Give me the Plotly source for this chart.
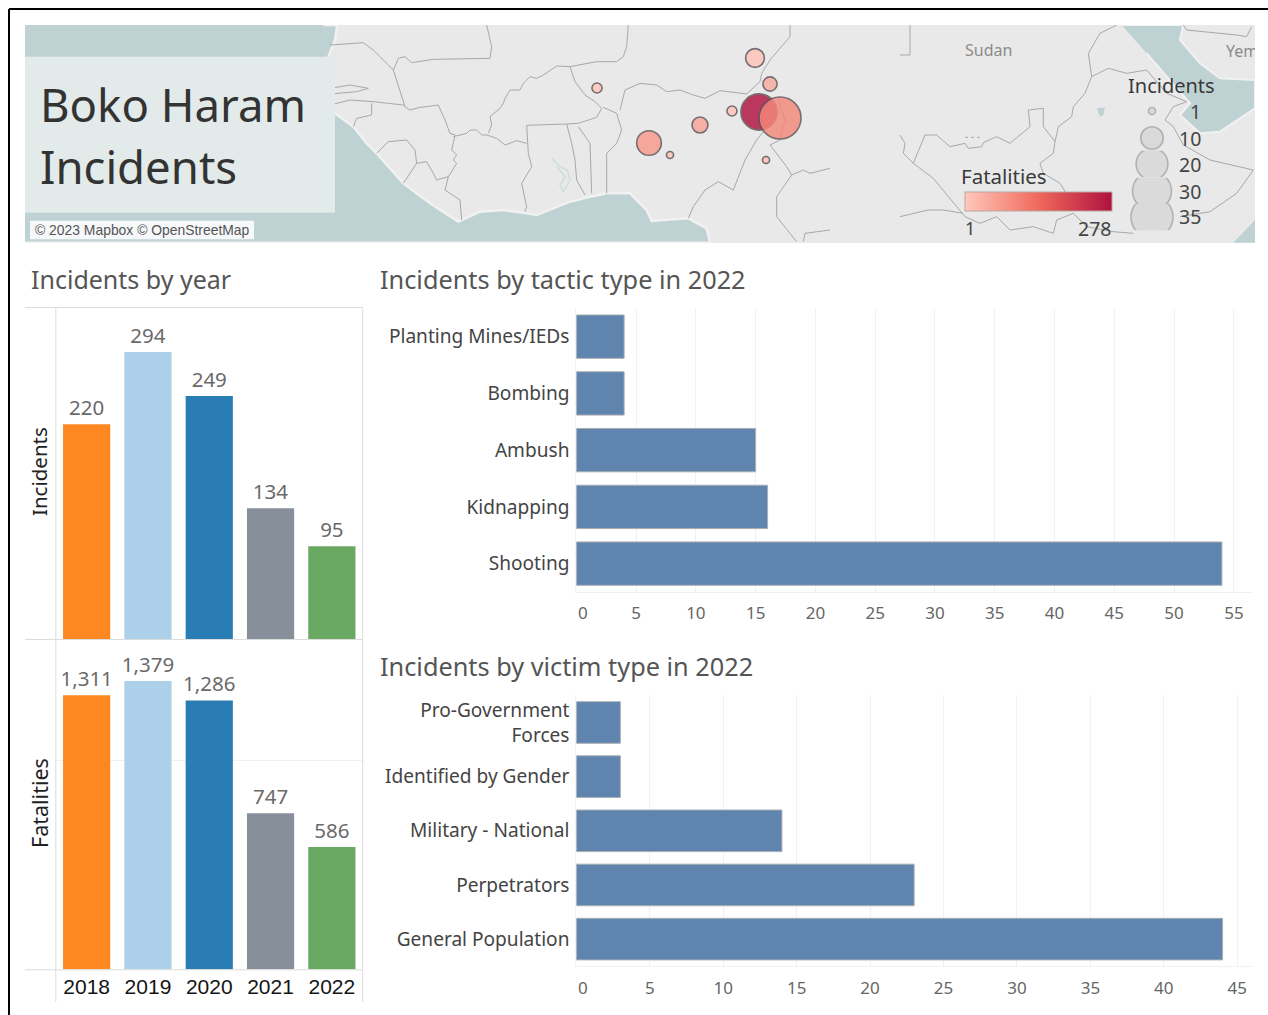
import plotly.graph_objects as go

W, H = 1268, 1015
FONT = "Noto Sans"

# ---------- data ----------
YEARS = ["2018", "2019", "2020", "2021", "2022"]
INCIDENTS = [220, 294, 249, 134, 95]
FATALITIES = [1311, 1379, 1286, 747, 586]
YEAR_COLORS = ["#fd8721", "#acd0ea", "#2a7cb4", "#87909a", "#6aa961"]

TACTICS = ["Planting Mines/IEDs", "Bombing", "Ambush", "Kidnapping", "Shooting"]
TACTIC_VALUES = [4, 4, 15, 16, 54]
VICTIMS = ["Pro-Government<br>Forces", "Identified by Gender", "Military - National", "Perpetrators", "General Population"]
VICTIM_VALUES = [3, 3, 14, 23, 44]
TACTIC_TICKS = list(range(0, 60, 5))
VICTIM_TICKS = list(range(0, 50, 5))

# events on the map panel (map x, map y, incidents, fatalities)
EVENT_X = [759, 755, 770, 597, 732, 700, 649, 670, 766, 780]
EVENT_Y = [112, 58, 84, 88, 111, 125, 143, 155, 160, 118]
EVENT_INC = [26, 7, 4, 2, 2, 5, 12, 1, 1, 35]
EVENT_FAT = [278, 10, 45, 5, 8, 55, 70, 10, 10, 95]
LEGEND_SIZES = [1, 10, 20, 30, 35]
FAT_MIN, FAT_MAX = 1, 278

WEST_SEA_A = [(-20, 15), (22, 15), (15, 60), (-5, 110), (-12, 230), (15, 280), (70, 320), (110, 370), (140, 400), (180, 445), (220, 490), (300, 550),
              (385, 605), (450, 575), (520, 570), (580, 578), (620, 585), (720, 545), (780, 530), (830, 520), (900, 520), (950, 570), (965, 603),
              (1075, 595), (1130, 625), (1140, 668), (-1000, 668), (-1000, 15)]
RED_SEA_B = [(665, 15), (850, 15), (840, 60), (900, 130), (960, 175), (1065, 180), (1065, 265), (960, 335), (900, 340),
             (840, 285), (870, 250), (800, 170), (740, 100)]
INDIAN_SEA_B = [(1000, 668), (1065, 600), (1065, 668)]
LAKE_TANA_B = [(590, 265), (615, 262), (610, 285), (600, 290)]
LAKE_VOLTA_A = [(665, 415), (690, 440), (712, 450), (720, 480), (700, 515), (690, 495), (705, 470), (680, 440)]
BORDERS_A = [
    [(0, 75), (50, 72), (100, 68), (130, 90), (165, 125), (190, 150), (205, 115), (225, 110), (245, 128), (310, 118), (480, 115), (485, 80), (470, 15)],
    [(895, 15), (890, 80), (880, 110), (860, 125), (800, 125), (720, 140), (680, 138), (640, 165), (620, 175), (600, 170), (580, 190), (570, 210), (540, 210), (525, 235), (520, 250), (510, 265), (480, 290), (485, 315), (475, 340)],
    [(720, 140), (735, 185), (765, 225), (795, 245), (815, 265), (800, 292), (745, 310), (710, 312), (590, 316), (595, 400), (605, 440), (575, 490), (590, 560), (585, 575)],
    [(370, 350), (390, 345), (410, 340), (420, 330), (440, 330), (455, 345), (470, 345), (500, 355), (525, 375), (560, 362), (590, 370)],
    [(190, 150), (205, 200), (225, 260), (240, 270), (270, 262), (290, 260), (325, 255), (345, 300), (360, 340), (375, 345), (365, 390), (380, 405), (370, 420), (380, 430), (355, 470), (345, 510), (390, 540), (395, 600)],
    [(0, 255), (60, 240), (130, 245), (220, 255), (225, 260)],
    [(0, 205), (60, 195), (115, 205), (80, 215), (0, 222)],
    [(125, 250), (125, 285), (80, 295), (70, 320)],
    [(140, 400), (175, 365), (230, 360), (255, 390), (260, 430), (290, 425), (310, 460), (320, 480), (355, 470)],
    [(220, 490), (255, 440), (260, 430)],
    [(710, 312), (725, 370), (735, 420), (740, 480), (765, 525)],
    [(745, 320), (780, 370), (785, 520)],
    [(820, 262), (860, 280), (875, 330), (860, 370), (830, 400), (830, 520)],
    [(870, 270), (885, 210), (930, 190), (980, 195), (1010, 215), (1050, 210), (1090, 225), (1125, 235), (1170, 212), (1250, 222), (1290, 185), (1295, 160), (1320, 120), (1380, 50), (1380, 15)],
    [(1300, 335), (1280, 360), (1245, 420), (1225, 470), (1210, 510), (1165, 485), (1125, 510), (1090, 560), (1075, 595)],
    [(1345, 240), (1365, 300), (1350, 360), (1320, 375), (1370, 440), (1385, 465), (1340, 530), (1340, 590), (1400, 665)],
    [(1385, 465), (1420, 450), (1440, 460), (1500, 445)],
    [(1420, 665), (1425, 640), (1500, 630)],
]
BORDERS_B = [
    [(30, 15), (30, 105), (0, 105)],
    [(0, 345), (15, 370), (10, 400), (40, 430), (75, 345), (110, 345), (150, 380), (195, 370), (205, 385), (245, 380), (250, 368), (290, 350), (330, 370), (390, 320), (385, 270), (430, 265), (430, 320), (465, 365), (475, 320), (515, 290), (520, 260), (555, 220), (575, 170), (565, 100), (600, 40), (650, 15)],
    [(575, 170), (625, 145), (680, 160), (740, 150), (800, 220), (860, 245), (820, 260), (795, 300), (820, 320), (850, 375), (930, 420), (1060, 450), (1010, 520), (930, 575), (840, 590)],
    [(40, 430), (100, 475), (170, 560), (195, 590), (240, 610), (290, 590), (330, 630), (400, 620), (460, 640), (470, 600), (520, 580), (560, 620), (640, 635), (700, 640)],
    [(465, 365), (460, 400), (420, 430), (430, 460), (480, 490), (530, 570)],
    [(0, 590), (85, 570), (130, 570), (190, 580)],
    [(850, 15), (860, 30), (1010, 45), (1040, 50), (1055, 20)],
]
ABYEI_B = [(195, 352), (245, 352)]

# ---------- helpers ----------
def crop_a(pts):
    return [(x / 3 + 330, y / 3 + 20) for x, y in pts]
def crop_b(pts):
    return [(x / 3 + 900, y / 3 + 20) for x, y in pts]
def px_x(v): return v / W
def px_y(v): return 1 - v / H
def dom_x(a, b): return [px_x(a), px_x(b)]
def dom_y(top, bottom): return [px_y(bottom), px_y(top)]

def polyline_xy(lines):
    xs, ys = [], []
    for line in lines:
        xs += [p[0] for p in line] + [None]
        ys += [p[1] for p in line] + [None]
    return xs, ys

def note(text, x, y, size, color="#444444", anchor="left", angle=0, family=FONT):
    return dict(text=text, x=px_x(x), y=px_y(y), xref="paper", yref="paper", showarrow=False, xanchor=anchor,
                yanchor="middle", textangle=angle, font=dict(size=size, color=color, family=family))

def rect(x0, y0, x1, y1, fill, layer="below", line=None):
    return dict(type="rect", xref="paper", yref="paper", x0=px_x(x0), x1=px_x(x1), y0=px_y(y0), y1=px_y(y1),
                fillcolor=fill, line=dict(width=0) if line is None else line, layer=layer)

def seg(x0, y0, x1, y1, color="#dcdcdc", width=1):
    return dict(type="line", xref="paper", yref="paper", x0=px_x(x0), x1=px_x(x1), y0=px_y(y0), y1=px_y(y1),
                line=dict(color=color, width=width), layer="above")

fig = go.Figure()

# ---------- map panel ----------
SEA = "#bfd2d3"
for poly, edge in ((crop_a(WEST_SEA_A), dict(color="#f1f1f1", width=2.5)), (crop_b(RED_SEA_B), dict(color="#f1f1f1", width=2)),
                   (crop_b(INDIAN_SEA_B), dict(width=0)), (crop_b(LAKE_TANA_B), dict(width=0))):
    fig.add_trace(go.Scatter(x=[p[0] for p in poly], y=[p[1] for p in poly], mode="lines", fill="toself",
                             fillcolor=SEA, line=edge, xaxis="x5", yaxis="y5", hoverinfo="skip"))
volta = crop_a(LAKE_VOLTA_A)
fig.add_trace(go.Scatter(x=[p[0] for p in volta], y=[p[1] for p in volta], mode="lines", line=dict(color="#cfdcdc", width=1.5),
                         xaxis="x5", yaxis="y5", hoverinfo="skip"))
bx, by = polyline_xy([crop_a(b) for b in BORDERS_A] + [crop_b(b) for b in BORDERS_B])
fig.add_trace(go.Scatter(x=bx, y=by, mode="lines", line=dict(color="#a8a8a8", width=1), xaxis="x5", yaxis="y5", hoverinfo="skip"))
ab = crop_b(ABYEI_B)
fig.add_trace(go.Scatter(x=[p[0] for p in ab], y=[p[1] for p in ab], mode="lines", line=dict(color="#a8a8a8", width=1, dash="dot"),
                         xaxis="x5", yaxis="y5", hoverinfo="skip"))
# country name that runs off the panel edge, clipped by the map axes
fig.add_trace(go.Scatter(x=[1242], y=[53], mode="text", text=["Yem"], textfont=dict(size=16, color="#8c8c8c", family=FONT),
                         xaxis="x5", yaxis="y5", hoverinfo="skip"))

COLORSCALE = [[0, "#ffc8bc"], [0.5, "#f0695c"], [1, "#b0123f"]]
SIZEREF = 2 * 35 / 42 ** 2
fig.add_trace(go.Scatter(
    x=EVENT_X, y=EVENT_Y, mode="markers", xaxis="x5", yaxis="y5",
    marker=dict(size=EVENT_INC, sizemode="area", sizeref=SIZEREF, color=EVENT_FAT, cmin=FAT_MIN, cmax=FAT_MAX,
                colorscale=COLORSCALE, opacity=0.82, line=dict(color="#5d5357", width=1.6),
                colorbar=dict(orientation="h", x=px_x(964.5), xanchor="left", y=px_y(212), yanchor="bottom",
                              len=147, lenmode="pixels", thickness=19, thicknessmode="pixels", xpad=0, ypad=0,
                              outlinecolor="#b9a79f", outlinewidth=1, ticks="", showticklabels=False, borderwidth=0)),
    text=EVENT_FAT, hovertemplate="Incidents %{marker.size}<br>Fatalities %{text}<extra></extra>"))

# incidents size legend (one clipped row per size)
ROW_Y = [111, 138, 164, 191, 217]
for i, v in enumerate(LEGEND_SIZES):
    ax = 6 + i
    fig.add_trace(go.Scatter(x=[0], y=[0], mode="markers", xaxis=f"x{ax}", yaxis=f"y{ax}", hoverinfo="skip",
                             marker=dict(size=[v], sizemode="area", sizeref=SIZEREF, color="#d8d8d8", opacity=0.85,
                                         line=dict(color="#a8a8a8", width=1.6))))

# ---------- year panels ----------
for vals, xa, ya in ((INCIDENTS, "x", "y"), (FATALITIES, "x2", "y2")):
    fig.add_trace(go.Bar(x=YEARS, y=vals, xaxis=xa, yaxis=ya, width=0.77, marker=dict(color=YEAR_COLORS, line=dict(width=0)),
                         text=[f"{v:,}" for v in vals], textposition="outside", cliponaxis=False, constraintext="none",
                         textfont=dict(size=20.5, color="#6a6a6a", family=FONT), hoverinfo="x+y"))

# ---------- horizontal bars ----------
BAR_LINE = dict(color="#a9aeb4", width=1)
fig.add_trace(go.Bar(y=TACTICS, x=TACTIC_VALUES, orientation="h", xaxis="x3", yaxis="y3", width=0.764,
                     marker=dict(color="#5f84ae", line=BAR_LINE), hoverinfo="x+y"))
fig.add_trace(go.Bar(y=VICTIMS, x=VICTIM_VALUES, orientation="h", xaxis="x4", yaxis="y4", width=0.768,
                     marker=dict(color="#5f84ae", line=BAR_LINE), hoverinfo="x+y"))

# ---------- axes ----------
hidden = dict(showgrid=False, zeroline=False, showticklabels=False, showline=False, ticks="")
layout = dict(
    width=W, height=H, margin=dict(l=0, r=0, t=0, b=0, autoexpand=False), autosize=False,
    paper_bgcolor="white", plot_bgcolor="rgba(0,0,0,0)", showlegend=False, bargap=0.2,
    font=dict(family=FONT),
    xaxis=dict(domain=dom_x(56, 362.5), anchor="y", type="category", range=[-0.5, 4.5], **hidden),
    yaxis=dict(domain=dom_y(308, 639), anchor="x", range=[0, 339], **hidden),
    xaxis2=dict(domain=dom_x(56, 362.5), anchor="y2", type="category", range=[-0.5, 4.5], showgrid=False, zeroline=False,
                ticks="", showline=False, tickfont=dict(size=21, color="#141414", family="Liberation Sans"), ticklabelstandoff=2),
    yaxis2=dict(domain=dom_y(640, 969.5), anchor="x2", range=[0, 1575], tickvals=[1000], showticklabels=False, ticks="",
                showgrid=True, gridcolor="#f1f1f1", zeroline=False, showline=False),
)
TICK = dict(size=17, color="#666666", family=FONT)
CAT = dict(size=19.1, color="#444444", family=FONT)
for n, cats, ticks, xmax, top, bottom in ((3, TACTICS, TACTIC_TICKS, 56.6, 308.3, 592), (4, VICTIMS, VICTIM_TICKS, 46.07, 695.4, 966.2)):
    layout[f"xaxis{n}"] = dict(domain=dom_x(576.3, 1253), anchor=f"y{n}", range=[0, xmax], tickvals=ticks,
                               ticktext=["\u00a0\u00a0\u00a00" if t == 0 else str(t) for t in ticks],
                               showgrid=True, gridcolor="#f1f1f1", zeroline=False, ticks="", showline=True, linecolor="#f1f1f1",
                               tickfont=TICK, ticklabelstandoff=6)
    layout[f"yaxis{n}"] = dict(domain=dom_y(top, bottom), anchor=f"x{n}", type="category", categoryorder="array", categoryarray=cats,
                               range=[4.5, -0.5], showgrid=False, zeroline=False, ticks="", showline=True, linecolor="#f1f1f1",
                               tickfont=CAT, ticklabelstandoff=2)
layout["xaxis5"] = dict(domain=dom_x(25, 1255), anchor="y5", range=[25, 1255], **hidden)
layout["yaxis5"] = dict(domain=dom_y(25, 243), anchor="x5", range=[243, 25], **hidden)
for i, yc in enumerate(ROW_Y):
    ax = 6 + i
    layout[f"xaxis{ax}"] = dict(domain=dom_x(1125, 1179), anchor=f"y{ax}", range=[-27, 27], **hidden)
    layout[f"yaxis{ax}"] = dict(domain=dom_y(yc - 13.2, yc + 13.2), anchor=f"x{ax}", range=[-13.2, 13.2], **hidden)
fig.update_layout(**layout)

# ---------- shapes and text ----------
fig.update_layout(
    shapes=[
        rect(25, 25, 1255, 243, "#e9e9e9"),
        rect(25, 56.7, 335, 212.7, "#e3eaea", layer="above"),
        rect(30, 220.7, 254, 239.3, "rgba(255,255,255,0.85)", layer="above"),
        seg(9, 9, W, 9, "#000000", 2),
        seg(9, 9, 9, H, "#000000", 2),
        seg(25, 307.5, 362.5, 307.5),
        seg(25, 639.5, 362.5, 639.5),
        seg(25, 969.8, 362.5, 969.8),
        seg(55.8, 307.5, 55.8, 1002),
        seg(362.7, 307.5, 362.7, 1002),
    ],
    annotations=[
        note("Boko Haram", 38, 104, 45.5, "#333333"),
        note("Incidents", 38, 166, 45.5, "#333333"),
        note("© 2023 Mapbox © OpenStreetMap", 33, 230.5, 13.9, "#555555", family="Liberation Sans"),
        note("Sudan", 963, 50, 16, "#8c8c8c"),
        note("Incidents", 1126, 86, 20, "#3a3a3a"),
        note("Fatalities", 959, 176, 20.5, "#3a3a3a"),
        note("1", 970, 228, 18, "#444444", anchor="center"),
        note("278", 1112.5, 228, 19.5, "#444444", anchor="right"),
        *[note(str(v), 1203, y, 19.5, "#444444", anchor="right") for v, y in zip(LEGEND_SIZES, ROW_Y)],
        note("Incidents by year", 29, 279, 25, "#555555"),
        note("Incidents by tactic type in 2022", 378, 279, 25.3, "#555555"),
        note("Incidents by victim type in 2022", 378, 666, 25.3, "#555555"),
        note("Incidents", 39, 472, 20.5, "#222222", anchor="center", angle=-90),
        note("Fatalities", 39, 803, 21.5, "#222222", anchor="center", angle=-90),
    ],
)

fig.write_html("out.html", config=dict(displayModeBar=False),
               post_script="document.body.style.margin='0';document.documentElement.style.overflow='hidden';")
